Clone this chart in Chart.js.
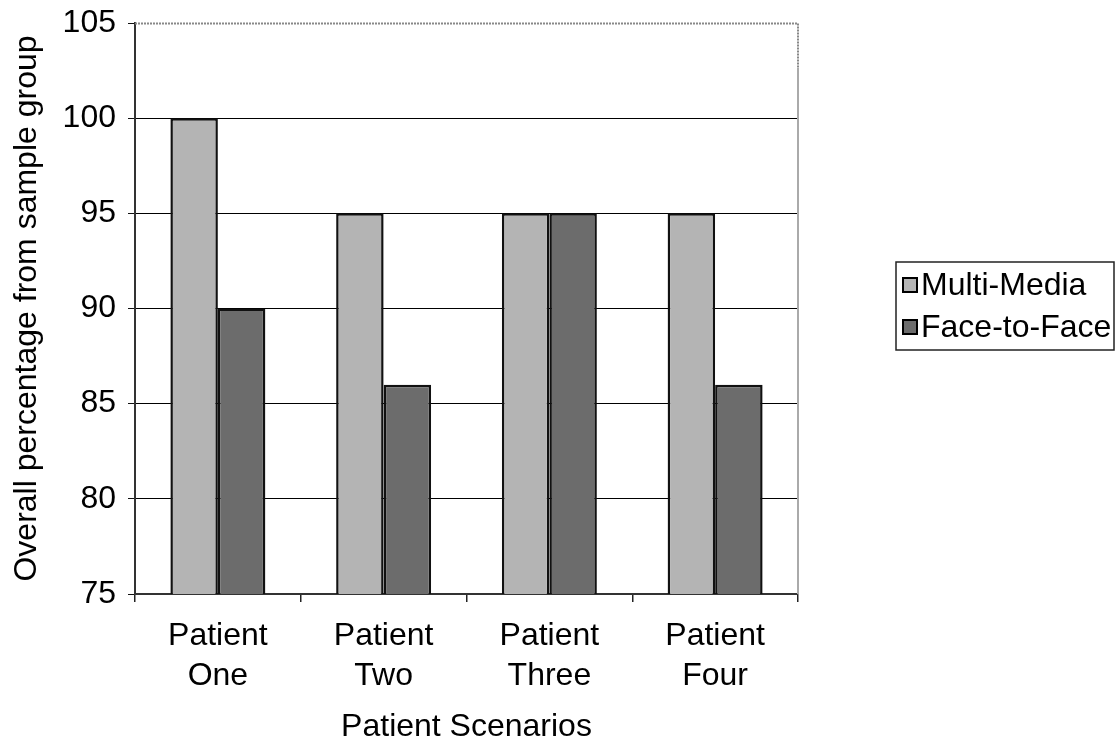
<!DOCTYPE html>
<html>
<head>
    <title>Patient Scenarios</title>
    <script src="https://cdn.jsdelivr.net/npm/chart.js"></script>
    <style>
        html, body { margin: 0; padding: 0; background: #fff; }
        #wrap { width: 1117px; height: 748px; }
    </style>
</head>
<body>
    <div id="wrap">
        <canvas id="myChart" width="1117" height="748"></canvas>
    </div>

    <script>
        // scenario names (two lines each) and results per teaching method
        const scenarios = [['Patient', 'One'], ['Patient', 'Two'], ['Patient', 'Three'], ['Patient', 'Four']];
        const multiMedia = [100, 95, 95, 95];
        const faceToFace = [90, 86, 95, 86];
        const yTicks = [75, 80, 85, 90, 95, 100, 105];

        const FONT = "'Liberation Sans', Arial, Helvetica, sans-serif";
        const FS = 32;

        // top and right edges of the plot frame
        const framePlugin = {
            id: 'frame',
            afterDatasetsDraw(chart) {
                const {ctx, chartArea: a} = chart;
                ctx.save();
                ctx.strokeStyle = '#888';
                ctx.lineWidth = 2;
                ctx.setLineDash([2, 1]);
                ctx.beginPath();
                ctx.moveTo(a.left, a.top + 0.5);
                ctx.lineTo(a.right, a.top + 0.5);
                ctx.lineTo(a.right, a.top + 45);
                ctx.stroke();
                ctx.setLineDash([]);
                ctx.strokeStyle = '#aaa';
                ctx.beginPath();
                ctx.moveTo(a.right, a.top + 45);
                ctx.lineTo(a.right, a.bottom);
                ctx.stroke();
                ctx.restore();
            }
        };

        // boxed legend to the right of the plot
        const legendBox = {
            id: 'legendBox',
            afterDraw(chart) {
                const {ctx} = chart;
                const x = 896, y = 262, w = 218, h = 88;
                ctx.save();
                ctx.strokeStyle = '#222';
                ctx.lineWidth = 1.5;
                ctx.strokeRect(x, y, w, h);
                ctx.font = FS + 'px ' + FONT;
                ctx.textBaseline = 'middle';
                chart.data.datasets.forEach((ds, i) => {
                    const cy = y + 23 + i * 42;
                    ctx.fillStyle = ds.backgroundColor;
                    ctx.fillRect(x + 7, cy - 7, 14, 14);
                    ctx.strokeStyle = '#000';
                    ctx.lineWidth = 2;
                    ctx.strokeRect(x + 7, cy - 7, 14, 14);
                    ctx.fillStyle = '#000';
                    ctx.fillText(ds.label, x + 25, cy + 1);
                });
                ctx.restore();
            }
        };

        const ctx = document.getElementById('myChart').getContext('2d');
        const myChart = new Chart(ctx, {
            type: 'bar',
            data: {
                labels: scenarios,
                datasets: [{
                    label: 'Multi-Media',
                    data: multiMedia,
                    backgroundColor: '#b4b4b4',
                    borderColor: '#111',
                    borderWidth: 2.5,
                    borderSkipped: false
                }, {
                    label: 'Face-to-Face',
                    data: faceToFace,
                    backgroundColor: '#6c6c6c',
                    borderColor: '#111',
                    borderWidth: 2.5,
                    borderSkipped: false
                }]
            },
            options: {
                responsive: false,
                animation: false,
                layout: { padding: { top: 23, right: 319, left: 0, bottom: 0 } },
                datasets: { bar: { categoryPercentage: 0.573, barPercentage: 1 } },
                plugins: {
                    legend: { display: false },
                    tooltip: { enabled: false }
                },
                scales: {
                    x: {
                        afterFit: s => { s.height = 154; s.paddingLeft = 0; s.paddingRight = 0; },
                        grid: {
                            offset: true,
                            drawOnChartArea: false,
                            drawTicks: true,
                            tickLength: 8,
                            color: '#222',
                            lineWidth: 1.5
                        },
                        border: { color: '#333', width: 2 },
                        ticks: {
                            color: '#000',
                            padding: 14,
                            maxRotation: 0,
                            font: { family: FONT, size: FS, lineHeight: 1.25 }
                        },
                        title: {
                            display: true,
                            text: 'Patient Scenarios',
                            color: '#000',
                            padding: { top: 0, bottom: 2 },
                            font: { family: FONT, size: FS, lineHeight: 1.2 }
                        }
                    },
                    y: {
                        min: 75,
                        max: 105,
                        afterFit: s => { s.width = 135; s.paddingTop = 0; s.paddingBottom = 0; },
                        afterBuildTicks: s => { s.ticks = yTicks.map(v => ({ value: v })); },
                        grid: {
                            color: c => (c.tick && c.tick.value === 105) ? 'rgba(0,0,0,0)' : '#000',
                            tickColor: '#111',
                            tickLength: 7,
                            lineWidth: 1
                        },
                        border: { color: '#333', width: 2 },
                        ticks: {
                            color: '#000',
                            padding: 12,
                            font: { family: FONT, size: FS }
                        },
                        title: {
                            display: true,
                            text: 'Overall percentage from sample group',
                            color: '#000',
                            padding: { top: 8, bottom: 0 },
                            font: { family: FONT, size: FS, lineHeight: 1.2 }
                        }
                    }
                }
            },
            plugins: [framePlugin, legendBox]
        });
    </script>
</body>
</html>
